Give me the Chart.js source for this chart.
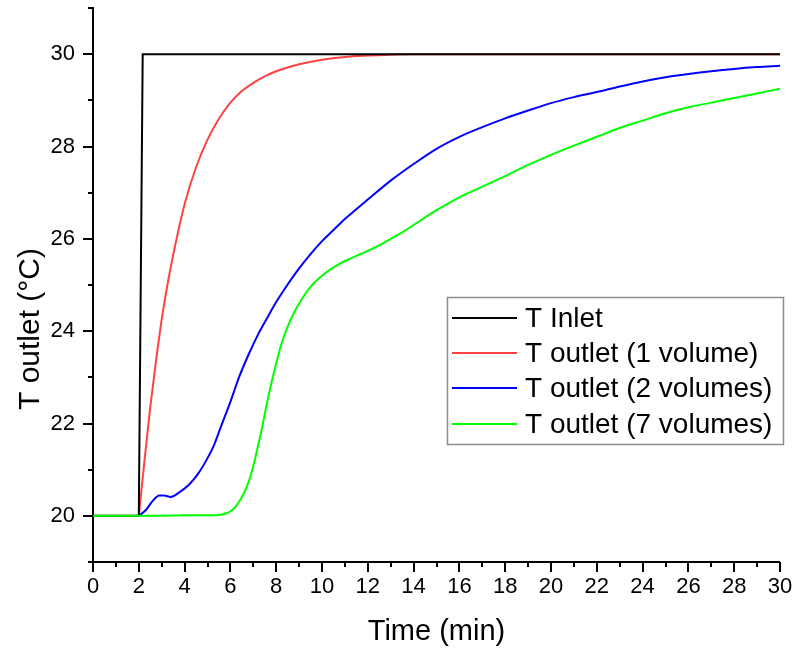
<!DOCTYPE html>
<html>
<head>
<meta charset="utf-8">
<title>Outlet temperature response</title>
<script src="https://cdn.jsdelivr.net/npm/chart.js@4.4.1/dist/chart.umd.min.js"></script>
<style>
  html, body { margin: 0; padding: 0; background: #fff; }
  #wrap { width: 796px; height: 650px; position: relative; }
</style>
</head>
<body>
<div id="wrap"><canvas id="chart" width="796" height="650"></canvas></div>
<script>
// Time axis (min) and temperatures (°C) for each measured curve
const inletTime = [0, 2.0, 2.17, 30];
const inletTemp = [20, 20, 30, 30];

const vol1Time = [2.0, 2.25, 2.5, 2.75, 3.0, 3.25, 3.5, 4.0, 4.5, 5.0, 5.5, 6.0, 6.5, 7.0, 7.5, 8.0, 9.0, 10.0, 11.0, 12.0, 13.0, 14.0, 30.0];
const vol1Temp = [20.0, 21.2, 22.35, 23.35, 24.25, 25.0, 25.65, 26.75, 27.55, 28.15, 28.6, 28.95, 29.2, 29.38, 29.52, 29.63, 29.78, 29.88, 29.94, 29.97, 29.99, 30.0, 30.0];

const vol2Time = [2.0, 2.3, 2.6, 2.9, 3.1, 3.4, 3.8, 4.2, 4.6, 5.0, 5.3, 5.6, 6.0, 6.4, 6.8, 7.2, 7.6, 8.0, 8.5, 9.0, 9.5, 10.0, 10.5, 11.0, 11.5, 12.0, 13.0, 14.0, 15.0, 16.0, 17.0, 18.0, 19.0, 20.0, 21.0, 22.0, 23.0, 24.0, 25.0, 26.0, 27.0, 28.0, 29.0, 30.0];
const vol2Temp = [20.0, 20.12, 20.32, 20.44, 20.44, 20.41, 20.52, 20.68, 20.92, 21.25, 21.55, 21.95, 22.47, 23.03, 23.5, 23.92, 24.28, 24.63, 25.01, 25.36, 25.67, 25.95, 26.19, 26.43, 26.64, 26.85, 27.26, 27.62, 27.95, 28.21, 28.42, 28.61, 28.78, 28.94, 29.07, 29.18, 29.3, 29.41, 29.5, 29.57, 29.63, 29.68, 29.72, 29.75];

const vol7Time = [0, 1, 2, 3, 4, 5, 5.5, 5.8, 6.0, 6.2, 6.4, 6.6, 6.8, 7.0, 7.2, 7.4, 7.6, 7.8, 8.0, 8.2, 8.5, 8.8, 9.1, 9.5, 10.0, 10.5, 11.0, 11.5, 12.0, 12.5, 13.0, 13.5, 14.0, 15.0, 16.0, 17.0, 18.0, 19.0, 20.0, 21.0, 22.0, 23.0, 24.0, 25.0, 26.0, 27.0, 28.0, 29.0, 30.0];
const vol7Temp = [20.0, 20.0, 20.0, 20.0, 20.01, 20.01, 20.02, 20.05, 20.1, 20.18, 20.32, 20.5, 20.74, 21.08, 21.5, 21.95, 22.45, 22.9, 23.3, 23.68, 24.1, 24.42, 24.68, 24.96, 25.2, 25.38, 25.52, 25.63, 25.74, 25.86, 26.0, 26.14, 26.3, 26.62, 26.9, 27.13, 27.36, 27.6, 27.82, 28.02, 28.21, 28.4, 28.56, 28.72, 28.85, 28.95, 29.05, 29.15, 29.25];

const seriesNames = ['T Inlet', 'T outlet (1 volume)', 'T outlet (2 volumes)', 'T outlet (7 volumes)'];
const seriesColors = ['#000000', '#ff4242', '#0000ff', '#00ff00'];
// drawing order: lower numbers are painted on top (green, then black, blue, red)
const seriesOrder = [2, 4, 3, 1];

const xTickValues = [0, 2, 4, 6, 8, 10, 12, 14, 16, 18, 20, 22, 24, 26, 28, 30];
const yTickValues = [20, 22, 24, 26, 28, 30];
const xTitle = 'Time (min)';
const yTitle = 'T outlet (°C)';

const FONT = '"Liberation Sans", Arial, sans-serif';

function pairs(xs, ys) { return xs.map((x, i) => ({ x: x, y: ys[i] })); }

const seriesData = [
  pairs(inletTime, inletTemp),
  pairs(vol1Time, vol1Temp),
  pairs(vol2Time, vol2Temp),
  pairs(vol7Time, vol7Temp)
];

// Outward major/minor tick marks, axis titles and the boxed legend
const decorations = {
  id: 'decorations',
  afterDraw(chart) {
    const ctx = chart.ctx;
    const xs = chart.scales.x, ys = chart.scales.y;
    const area = chart.chartArea;
    ctx.save();
    ctx.strokeStyle = '#000';
    ctx.lineWidth = 2;
    ctx.beginPath();
    for (let v = xs.min; v <= xs.max; v += 1) {
      const px = Math.round(xs.getPixelForValue(v));
      const len = (v % 2 === 0) ? 10 : 5;
      ctx.moveTo(px, area.bottom);
      ctx.lineTo(px, area.bottom + len);
    }
    for (let v = ys.min; v <= ys.max; v += 1) {
      const py = Math.round(ys.getPixelForValue(v));
      const len = (v % 2 === 0) ? 10 : 5;
      ctx.moveTo(area.left, py);
      ctx.lineTo(area.left - len, py);
    }
    ctx.stroke();

    // axis titles
    ctx.fillStyle = '#000';
    ctx.textAlign = 'center';
    ctx.textBaseline = 'middle';
    ctx.font = '29px ' + FONT;
    ctx.fillText(xTitle, (area.left + area.right) / 2, 632);
    ctx.font = '30px ' + FONT;
    ctx.translate(31, 329);
    ctx.rotate(-Math.PI / 2);
    ctx.fillText(yTitle, 0, 0);
    ctx.restore();

    // legend box
    ctx.save();
    const bx = 447, by = 297, bw = 336, bh = 147;
    ctx.fillStyle = '#fff';
    ctx.fillRect(bx, by, bw, bh);
    ctx.strokeStyle = '#8c8c8c';
    ctx.lineWidth = 1.5;
    ctx.strokeRect(bx + 0.5, by + 0.5, bw, bh);
    ctx.font = '28px ' + FONT;
    ctx.textAlign = 'left';
    ctx.textBaseline = 'middle';
    const rows = [318, 353, 388, 424];
    chart.data.datasets.forEach((ds, i) => {
      ctx.strokeStyle = ds.borderColor;
      ctx.lineWidth = 2;
      ctx.beginPath();
      ctx.moveTo(452, rows[i]);
      ctx.lineTo(517, rows[i]);
      ctx.stroke();
      ctx.fillStyle = '#000';
      ctx.fillText(ds.label, 525, rows[i] + 1);
    });
    ctx.restore();
  }
};

new Chart(document.getElementById('chart'), {
  type: 'scatter',
  data: {
    datasets: seriesData.map((d, i) => ({
      label: seriesNames[i],
      data: d,
      showLine: true,
      borderColor: seriesColors[i],
      backgroundColor: seriesColors[i],
      borderWidth: 2,
      pointRadius: 0,
      cubicInterpolationMode: i === 0 ? 'default' : 'monotone',
      tension: 0,
      order: seriesOrder[i]
    }))
  },
  options: {
    responsive: false,
    animation: false,
    layout: { padding: { top: 8, right: 16, left: 0, bottom: 0 } },
    plugins: {
      legend: { display: false },
      tooltip: { enabled: false }
    },
    scales: {
      x: {
        type: 'linear',
        min: 0,
        max: 30,
        afterBuildTicks: s => { s.ticks = xTickValues.map(v => ({ value: v })); },
        afterFit: s => { s.height = 88; s.paddingLeft = 0; s.paddingRight = 0; },
        ticks: {
          color: '#000',
          font: { family: FONT, size: 22 },
          padding: 12,
          maxRotation: 0,
          autoSkip: false
        },
        grid: { display: true, drawOnChartArea: false, drawTicks: false, lineWidth: 0 },
        border: { display: true, color: '#000', width: 2 }
      },
      y: {
        type: 'linear',
        min: 19,
        max: 31,
        afterBuildTicks: s => { s.ticks = yTickValues.map(v => ({ value: v })); },
        afterFit: s => { s.width = 93; s.paddingTop = 0; s.paddingBottom = 0; },
        ticks: {
          color: '#000',
          font: { family: FONT, size: 22 },
          padding: 18,
          autoSkip: false
        },
        grid: { display: true, drawOnChartArea: false, drawTicks: false, lineWidth: 0 },
        border: { display: true, color: '#000', width: 2 }
      }
    }
  },
  plugins: [decorations]
});
</script>
</body>
</html>
